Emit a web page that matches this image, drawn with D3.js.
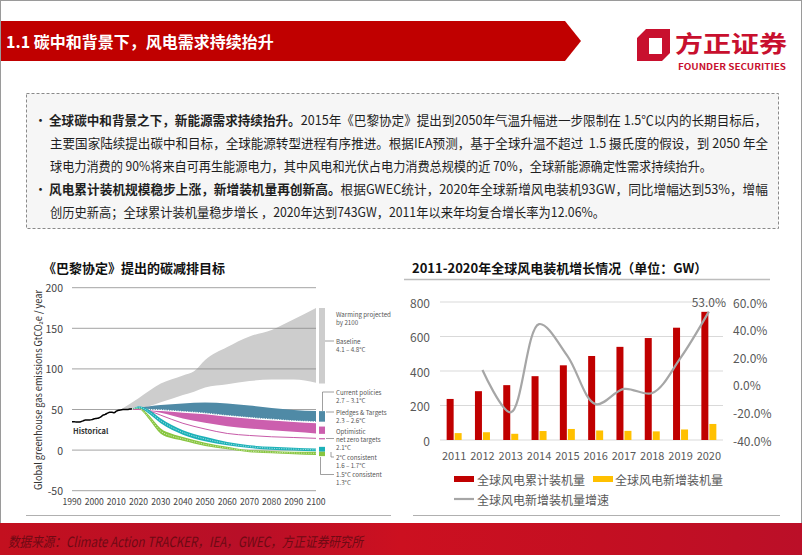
<!DOCTYPE html>
<html><head><meta charset="utf-8">
<script src="https://cdn.jsdelivr.net/npm/d3@7"></script>
<style>
html,body{margin:0;padding:0;background:#fff;}
svg{display:block;}
text{font-family:"Noto Sans CJK SC","Noto Sans",sans-serif;}
</style></head>
<body>
<svg id="c" width="802" height="555"></svg>
<script>
// ---------- DATA ----------
// right chart
const years = ["2011","2012","2013","2014","2015","2016","2017","2018","2019","2020"];
const cumulative = [238,283,318,370,433,487,540,591,651,743];
const added = [40,45,36,52,64,55,53,50,61,93];
const growth = [null,0.107,-0.20,0.44,0.21,-0.14,-0.03,-0.06,0.195,0.53];
const leftTicks = [0,200,400,600,800];
const rightTicks = [-0.4,-0.2,0,0.2,0.4,0.6];
const legendNames = ["全球风电累计装机量","全球风电新增装机量","全球风电新增装机量增速"];

// left chart
const histYears = [1990,1991,1992,1993,1994,1995,1996,1997,1998,1999,2000,2001,2002,2003,2004,2005,2006,2007,2008,2009,2010,2011,2012,2013,2014,2015,2016,2017];
const histValues = [35,35,34.5,34.5,35,36,37,37,37,37.5,38.5,39,39.5,41,43,44,45.5,46.5,46.5,46,48,49,49.5,50,50,50,50.5,51];
const baseYears = [2012,2020,2030,2040,2045,2050,2060,2070,2080,2090,2100];
const baseHi = [50,64,82,92,97,111,127,140,148,161,175];
const baseLo = [50,51,59,68,72,77,81,85,87,87,83];
const polYears = [2017,2020,2025,2030,2040,2050,2060,2070,2080,2090,2100];
const curHi = [50,52,54,55.5,57.5,58.5,57.5,55,52,49.5,48];
const curLo = [50,50.5,50,49.5,47.5,45.5,42.5,40,38,36,35];
const pledgeHi = [50,50,49,48,46,44,41,38.5,36.5,34.5,33];
const pledgeLo = [50,50,48,46,39,33.6,29.5,26.7,24.6,22.6,20.5];
const optimistic = [50,50,48,43,33,26,20.5,18,16.4,15.5,14.5];
const pathYears = [2017,2019,2020,2022,2025,2030,2035,2040,2050,2060,2070,2080,2090,2100];
const twoHi = [50,53,54,53,49,39,31,24.6,16.4,10,6,4,3,2];
const twoLo = [50,51.5,52,50,44,33,25,19,11,6,2.5,0.5,-0.5,-1.5];
const oneHi = [50,52.5,53,50,42,26.6,20,16,9,4,0,-1,-2,-2];
const oneLo = [50,51,51.5,47,37,20,14.5,11.5,5,1,-2.5,-4,-5,-6];
const swatchLo = [82,35,20,-2,-7.4];
const swatchHi = [175,48,29,4,-2];
const optimisticEnd = 14;
const yTicksL = [-50,0,50,100,150,200];
const xTicksL = [1990,2000,2010,2020,2030,2040,2050,2060,2070,2080,2090,2100];

// ---------- DRAW ----------
const svg = d3.select("#c");
const defs = svg.append("defs");

// slide border
svg.append("rect").attr("x",0.5).attr("y",0.5).attr("width",801).attr("height",554)
  .attr("fill","#fff").attr("stroke","#9a9a9a");

// header banner
svg.append("path").attr("d","M1,21 L565,21 L581,41 L565,61 L1,61 Z").attr("fill","#c00000");
svg.append("text").attr("x",6).attr("y",41).attr("dominant-baseline","central")
  .attr("fill","#fff").attr("font-size",16).attr("font-weight","bold")
  .text("1.1 碳中和背景下，风电需求持续抬升");

// logo
svg.append("path").attr("d","M646,29 L670,29 L670,53 L662,61 L637,61 L637,38 Z M649,38 L649,54 L662,54 L662,38 Z")
  .attr("fill","#c8102e").attr("fill-rule","evenodd");
svg.append("text").attr("x",675).attr("y",42).attr("dominant-baseline","central")
  .attr("fill","#c8102e").attr("font-size",23).attr("font-weight","bold")
  .attr("textLength",112).attr("lengthAdjust","spacingAndGlyphs").text("方正证券");
svg.append("text").attr("x",678).attr("y",66).attr("dominant-baseline","central")
  .attr("fill","#c8102e").attr("font-size",8.5).attr("font-weight","bold")
  .attr("textLength",108).attr("lengthAdjust","spacingAndGlyphs").text("FOUNDER SECURITIES");

// text box
svg.append("rect").attr("x",26.5).attr("y",93.5).attr("width",752).attr("height",135)
  .attr("fill","#f6f6f6").attr("stroke","#8a8a8a").attr("stroke-dasharray","3,2");
const lines = [
  {x:49,y:119,w:718,bullet:true,parts:[["全球碳中和背景之下，新能源需求持续抬升。",true],["2015年《巴黎协定》提出到2050年气温升幅进一步限制在 1.5℃以内的长期目标后，",false]]},
  {x:50,y:142,w:718,parts:[["主要国家陆续提出碳中和目标，全球能源转型进程有序推进。根据IEA预测，基于全球升温不超过  1.5 摄氏度的假设，到 2050 年全",false]]},
  {x:50,y:165,w:662,parts:[["球电力消费的 90%将来自可再生能源电力，其中风电和光伏占电力消费总规模的近 70%，全球新能源确定性需求持续抬升。",false]]},
  {x:49,y:188,w:719,bullet:true,parts:[["风电累计装机规模稳步上涨，新增装机量再创新高。",true],["根据GWEC统计，2020年全球新增风电装机93GW，同比增幅达到53%，增幅",false]]},
  {x:50,y:211,w:555,parts:[["创历史新高；全球累计装机量稳步增长 ，2020年达到743GW，2011年以来年均复合增长率为12.06%。",false]]}
];
lines.forEach(l=>{
  if(l.bullet) svg.append("text").attr("x",34).attr("y",l.y).attr("dominant-baseline","central")
    .attr("font-size",13).attr("fill","#222").text("•");
  const t = svg.append("text").attr("x",l.x).attr("y",l.y).attr("dominant-baseline","central")
    .attr("font-size",13).attr("fill","#1f1f1f").attr("textLength",l.w).attr("lengthAdjust","spacingAndGlyphs")
    .attr("xml:space","preserve");
  l.parts.forEach(p=>t.append("tspan").attr("font-weight",p[1]?"bold":"normal").text(p[0]));
});

// ---------- LEFT CHART ----------
svg.append("text").attr("x",43).attr("y",267).attr("dominant-baseline","central")
  .attr("font-size",13).attr("font-weight","bold").attr("fill","#111").text("《巴黎协定》提出的碳减排目标");

const xL = d3.scaleLinear().domain([1990,2100]).range([72,316]);
const yL = d3.scaleLinear().domain([-50,200]).range([490.7,287.7]);
const gL = svg.append("g");

const band = (ys,hi,lo)=>d3.area().x((d,i)=>xL(ys[i])).y0((d,i)=>yL(lo[i])).y1((d,i)=>yL(hi[i])).curve(d3.curveMonotoneX)(ys);
const lineF = (ys,v)=>d3.line().x((d,i)=>xL(ys[i])).y((d,i)=>yL(v[i])).curve(d3.curveMonotoneX)(ys);
const mid = (a,b)=>a.map((v,i)=>(v+b[i])/2);

gL.append("path").attr("d",band(baseYears,baseHi,baseLo)).attr("fill","#cdcdcd");
// gridlines
gL.selectAll(".gl").data(yTicksL).join("line")
  .attr("x1",xL(1990)).attr("x2",xL(2100)).attr("y1",d=>yL(d)).attr("y2",d=>yL(d))
  .attr("stroke","#8c8c8c").attr("stroke-width",0.8);
gL.selectAll(".yl").data(yTicksL).join("text")
  .attr("x",63).attr("y",d=>yL(d)).attr("text-anchor","end").attr("dominant-baseline","central")
  .attr("font-size",10.5).attr("fill","#444").attr("font-family","Noto Sans").text(d=>d);
gL.selectAll(".xl").data(xTicksL).join("text")
  .attr("x",d=>xL(d)).attr("y",501).attr("text-anchor","middle").attr("dominant-baseline","central")
  .attr("font-size",8.6).attr("fill","#444").attr("font-family","Noto Sans").text(d=>d);
svg.append("text").attr("transform","translate(37,390) rotate(-90)").attr("text-anchor","middle")
  .attr("dominant-baseline","central").attr("font-size",10).attr("fill","#333").attr("font-family","Noto Sans")
  .attr("textLength",200).attr("lengthAdjust","spacingAndGlyphs")
  .text("Global greenhouse gas emissions GtCO₂e / year");

// bands
gL.append("path").attr("d",band(polYears,curHi,curLo)).attr("fill","#4f8aa6");
gL.append("path").attr("d",band(polYears,pledgeHi,pledgeLo)).attr("fill","#cc5fae");
gL.append("path").attr("d",lineF(polYears,curLo)).attr("fill","none").attr("stroke","#fff")
  .attr("stroke-width",1.2).attr("stroke-dasharray","1.2,1.2");
gL.append("path").attr("d",lineF(polYears,optimistic)).attr("fill","none").attr("stroke","#c75aa8").attr("stroke-width",1);
gL.append("path").attr("d",band(pathYears,oneHi,oneLo)).attr("fill","#88c540");
gL.append("path").attr("d",lineF(pathYears,mid(oneHi,oneLo))).attr("fill","none").attr("stroke","#e8f5d8")
  .attr("stroke-width",0.7).attr("stroke-dasharray","1.2,1.2");
gL.append("path").attr("d",band(pathYears,twoHi,twoLo)).attr("fill","#1cb1b8");
gL.append("path").attr("d",lineF(pathYears,mid(twoHi,twoLo))).attr("fill","none").attr("stroke","#d8f3f4")
  .attr("stroke-width",0.7).attr("stroke-dasharray","1.2,1.2");
// historical
gL.append("path").attr("d",lineF(histYears,histValues)).attr("fill","none").attr("stroke","#000").attr("stroke-width",1.5);
svg.append("text").attr("x",73).attr("y",430).attr("dominant-baseline","central").attr("font-size",7.5)
  .attr("font-weight","bold").attr("fill","#333").attr("font-family","Noto Sans").text("Historical");

// swatches at 2100
const swColors = ["#cdcdcd","#4f8aa6","#cc5fae","#1cb1b8","#88c540"];
gL.selectAll(".sw").data(swatchLo).join("rect")
  .attr("x",319).attr("width",6).attr("y",(d,i)=>yL(swatchHi[i])).attr("height",(d,i)=>yL(d)-yL(swatchHi[i]))
  .attr("fill",(d,i)=>swColors[i]);
gL.append("line").attr("x1",319).attr("x2",325).attr("y1",yL(optimisticEnd)).attr("y2",yL(optimisticEnd))
  .attr("stroke","#c75aa8").attr("stroke-width",1.2);

// annotations
const ann = svg.append("g").attr("font-size",6.2).attr("fill","#555").attr("font-family","Noto Sans");
const annT = [["Warming projected",314],["by 2100",322],["Baseline",341],["4.1 – 4.8°C",349],
  ["Current policies",392],["2.7 – 3.1°C",400],["Pledges & Targets",412],["2.3 – 2.6°C",420],
  ["Optimistic",431],["net zero targets",439],["2.1°C",447],["2°C consistent",457],["1.6 – 1.7°C",465],
  ["1.5°C consistent",474.5],["1.3°C",482.5]];
annT.forEach(a=>ann.append("text").attr("x",336).attr("y",a[1]).attr("dominant-baseline","central").text(a[0]));
const conn = svg.append("g").attr("fill","none").attr("stroke","#777").attr("stroke-width",0.7);
conn.append("path").attr("d","M325,341 H334");
conn.append("path").attr("d","M322.5,411 V392 H334");
conn.append("path").attr("d","M326,412 H334");
conn.append("path").attr("d","M326,438.5 H334");
conn.append("path").attr("d","M331,452 V457 H334");
conn.append("path").attr("d","M320.5,457 V474.5 H334");

// ---------- RIGHT CHART ----------
svg.append("text").attr("x",412).attr("y",267).attr("dominant-baseline","central")
  .attr("font-size",13).attr("font-weight","bold").attr("fill","#111").text("2011-2020年全球风电装机增长情况（单位：GW）");
svg.append("line").attr("x1",404).attr("x2",770).attr("y1",279.5).attr("y2",279.5).attr("stroke","#bdbdbd").attr("stroke-width",1.5);

const xR = d3.scaleBand().domain(years).range([440,723]);
const yR = d3.scaleLinear().domain([0,800]).range([440,302]);
const yR2 = d3.scaleLinear().domain([-0.4,0.6]).range([440,302]);
const gR = svg.append("g");
gR.selectAll(".gr").data(leftTicks).join("line")
  .attr("x1",440).attr("x2",723).attr("y1",d=>yR(d)).attr("y2",d=>yR(d))
  .attr("stroke","#d9d9d9").attr("stroke-width",1);
gR.selectAll(".lt").data(leftTicks).join("text")
  .attr("x",430).attr("y",d=>yR(d)).attr("text-anchor","end").attr("dominant-baseline","central")
  .attr("font-size",12).attr("fill","#595959").text(d=>d);
gR.selectAll(".rt").data(rightTicks).join("text")
  .attr("x",733).attr("y",d=>yR2(d)).attr("dominant-baseline","central")
  .attr("font-size",12).attr("fill","#595959").text(d=>d3.format(".1%")(d).replace("−","-"));
gR.selectAll(".xt").data(years).join("text")
  .attr("x",d=>xR(d)+xR.bandwidth()/2).attr("y",455).attr("text-anchor","middle").attr("dominant-baseline","central")
  .attr("font-size",11).attr("fill","#595959").text(d=>d);
const bw = 7;
gR.selectAll(".b1").data(cumulative).join("rect")
  .attr("x",(d,i)=>xR(years[i])+xR.bandwidth()/2-bw-0.5).attr("width",bw)
  .attr("y",d=>yR(d)).attr("height",d=>yR(0)-yR(d)).attr("fill","#c00000");
gR.selectAll(".b2").data(added).join("rect")
  .attr("x",(d,i)=>xR(years[i])+xR.bandwidth()/2+0.5).attr("width",bw)
  .attr("y",d=>yR(d)).attr("height",d=>yR(0)-yR(d)).attr("fill","#ffc000");
const gPts = growth.map((v,i)=>[xR(years[i])+xR.bandwidth()/2, v]).filter(p=>p[1]!==null);
gR.append("path").attr("d",d3.line().x(p=>p[0]).y(p=>yR2(p[1])).curve(d3.curveCatmullRom.alpha(0.5))(gPts))
  .attr("fill","none").attr("stroke","#a6a6a6").attr("stroke-width",2.2);
const last = gPts[gPts.length-1];
gR.append("text").attr("x",last[0]).attr("y",yR2(last[1])-10).attr("text-anchor","middle")
  .attr("dominant-baseline","central").attr("font-size",12).attr("fill","#595959")
  .text(d3.format(".1%")(last[1]));

// legend
const lg = svg.append("g").attr("font-size",12).attr("fill","#595959");
lg.append("rect").attr("x",454).attr("y",476).attr("width",20).attr("height",6).attr("fill","#c00000");
lg.append("text").attr("x",477).attr("y",479).attr("dominant-baseline","central").text(legendNames[0]);
lg.append("rect").attr("x",593).attr("y",476).attr("width",20).attr("height",6).attr("fill","#ffc000");
lg.append("text").attr("x",615).attr("y",479).attr("dominant-baseline","central").text(legendNames[1]);
lg.append("line").attr("x1",454).attr("x2",474).attr("y1",499).attr("y2",499).attr("stroke","#a6a6a6").attr("stroke-width",2.2);
lg.append("text").attr("x",477).attr("y",499).attr("dominant-baseline","central").text(legendNames[2]);

// separators
svg.append("line").attr("x1",26).attr("x2",391).attr("y1",515.5).attr("y2",515.5).attr("stroke","#b0b0b0").attr("stroke-width",1.2);
svg.append("line").attr("x1",413).attr("x2",780).attr("y1",515.5).attr("y2",515.5).attr("stroke","#b0b0b0").attr("stroke-width",1.2);

// footer
const grad = defs.append("linearGradient").attr("id","fg");
[[0,"#c3101f"],[0.3,"#b80f28"],[0.5,"#cc1020"],[0.75,"#c40f22"],[1,"#bb0f28"]].forEach(s=>grad.append("stop").attr("offset",s[0]).attr("stop-color",s[1]));
svg.append("rect").attr("x",0).attr("y",523).attr("width",802).attr("height",32).attr("fill","url(#fg)");
svg.append("text").attr("x",8).attr("y",541).attr("dominant-baseline","central")
  .attr("font-size",14).attr("font-style","italic").attr("fill","#6e0a14")
  .attr("textLength",355).attr("lengthAdjust","spacingAndGlyphs")
  .text("数据来源：Climate Action TRACKER，IEA，GWEC，方正证券研究所");
</script>
</body></html>
